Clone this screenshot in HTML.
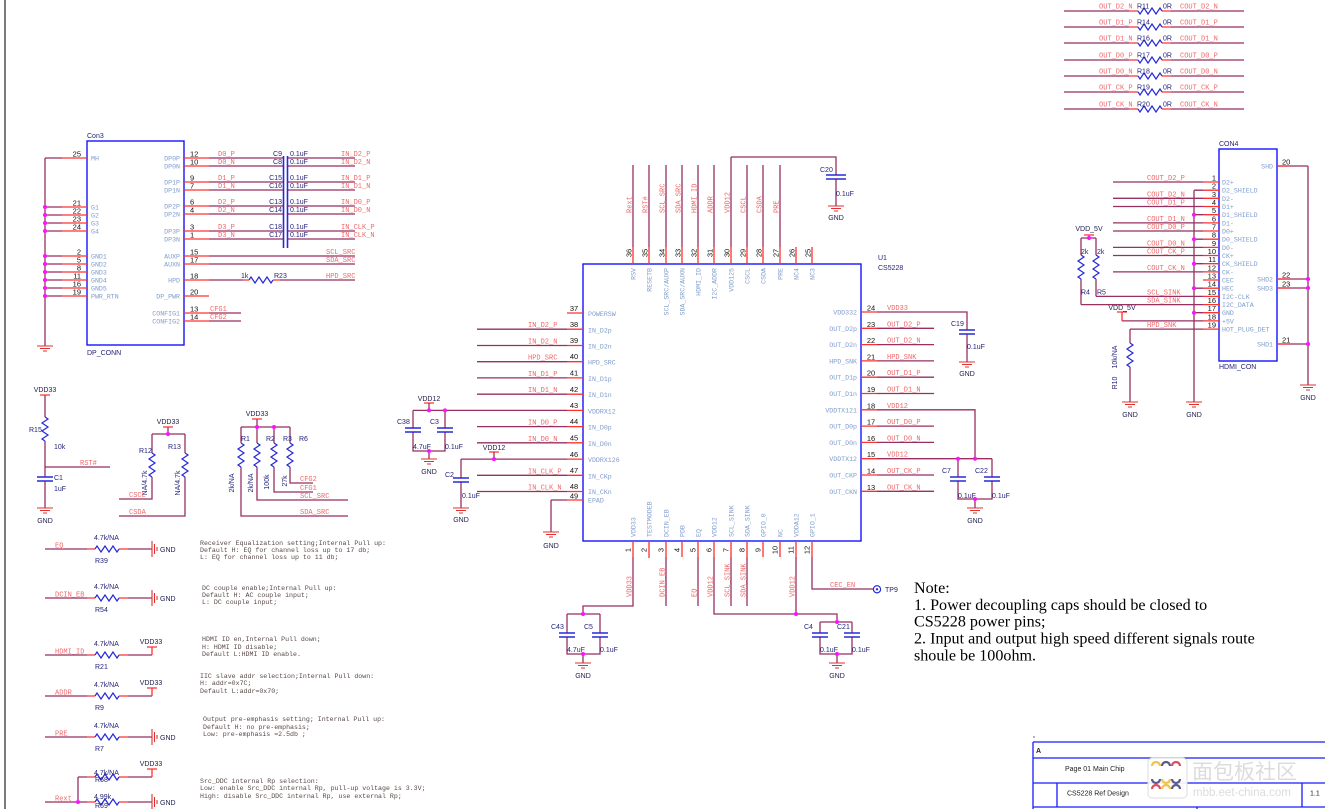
<!DOCTYPE html>
<html><head><meta charset="utf-8">
<style>
html,body{margin:0;padding:0;background:#fff;width:1325px;height:809px;overflow:hidden}
svg{display:block}
.w{stroke:#972f60;stroke-width:1.3;fill:none}
.p{stroke:#ff3030;stroke-width:1.3;fill:none}
.b{stroke:#1414ff;stroke-width:1.4;fill:none}
.z{stroke:#2828d8;stroke-width:1.2;fill:none}
.cp{stroke:#2828d8;stroke-width:1.6;fill:none}
.g{stroke:#e03030;stroke-width:1.1;fill:none}
.tb{stroke:#1a1aff;stroke-width:1.3;fill:none}
.d{fill:#ff10ff}
text{white-space:pre}
.n{font-family:"Liberation Mono",monospace;font-size:7px;fill:#f06868}
.pn{font-family:"Liberation Sans",sans-serif;font-size:7.5px;fill:#111}
.c{font-family:"Liberation Sans",sans-serif;font-size:7px;fill:#24247a}
.k{font-family:"Liberation Sans",sans-serif;font-size:7px;fill:#1c1c4c}
.il{font-family:"Liberation Mono",monospace;font-size:6.6px;fill:#7f9ccc}
.cm{font-family:"Liberation Mono",monospace;font-size:6.6px;fill:#5a4848}
.nt{font-family:"Liberation Serif",serif;font-size:16.1px;fill:#000}
.t{font-family:"Liberation Sans",sans-serif;font-size:7px;fill:#222}
</style></head>
<body>
<svg width="1325" height="809" viewBox="0 0 1325 809" xmlns="http://www.w3.org/2000/svg">
<line x1="5" y1="0" x2="5" y2="809" stroke="#7a7a7a" stroke-width="2"/>

<!-- ================= Con3 ================= -->
<rect class="b" x="87" y="141" width="97" height="204"/>
<text class="c" x="87" y="138">Con3</text>
<text class="c" x="87" y="355">DP_CONN</text>
<path class="w" d="M45 158V346M45 158H62M45 207H62M45 215H62M45 223H62M45 231H62M45 256H62M45 264H62M45 272H62M45 280H62M45 288H62M45 296H62"/>
<path class="p" d="M62 158H87M62 207H87M62 215H87M62 223H87M62 231H87M62 256H87M62 264H87M62 272H87M62 280H87M62 288H87M62 296H87"/>
<g class="d"><circle cx="45" cy="207" r="2"/><circle cx="45" cy="215" r="2"/><circle cx="45" cy="223" r="2"/><circle cx="45" cy="231" r="2"/><circle cx="45" cy="256" r="2"/><circle cx="45" cy="264" r="2"/><circle cx="45" cy="272" r="2"/><circle cx="45" cy="280" r="2"/><circle cx="45" cy="288" r="2"/><circle cx="45" cy="296" r="2"/></g>
<path class="g" d="M37 346H53M40 348.5H50M43 351H47"/>
<g class="pn" text-anchor="end">
<text x="81" y="156.5">25</text><text x="81" y="205.5">21</text><text x="81" y="213.5">22</text><text x="81" y="221.5">23</text><text x="81" y="229.5">24</text>
<text x="81" y="254.5">2</text><text x="81" y="262.5">5</text><text x="81" y="270.5">8</text><text x="81" y="278.5">11</text><text x="81" y="286.5">16</text><text x="81" y="294.5">19</text>
</g>
<g class="il">
<text x="91" y="160.5">MH</text><text x="91" y="209.5">G1</text><text x="91" y="217.5">G2</text><text x="91" y="225.5">G3</text><text x="91" y="233.5">G4</text>
<text x="91" y="258.5">GND1</text><text x="91" y="266.5">GND2</text><text x="91" y="274.5">GND3</text><text x="91" y="282.5">GND4</text><text x="91" y="290.5">GND5</text><text x="91" y="298.5">PWR_RTN</text>
</g>
<path class="p" d="M184 158H209M184 166H209M184 182H209M184 190H209M184 206H209M184 214H209M184 231H209M184 239H209M184 256H209M184 264H209M184 280H209M184 296H209M184 313H209M184 321H209"/>
<g class="pn">
<text x="190" y="156.5">12</text><text x="190" y="164.5">10</text><text x="190" y="180.5">9</text><text x="190" y="188.5">7</text><text x="190" y="204.5">6</text><text x="190" y="212.5">4</text><text x="190" y="229.5">3</text><text x="190" y="237.5">1</text>
<text x="190" y="254.5">15</text><text x="190" y="262.5">17</text><text x="190" y="278.5">18</text><text x="190" y="294.5">20</text><text x="190" y="311.5">13</text><text x="190" y="319.5">14</text>
</g>
<g class="il" text-anchor="end">
<text x="180" y="160.5">DP0P</text><text x="180" y="168.5">DP0N</text><text x="180" y="184.5">DP1P</text><text x="180" y="192.5">DP1N</text><text x="180" y="208.5">DP2P</text><text x="180" y="216.5">DP2N</text><text x="180" y="233.5">DP3P</text><text x="180" y="241.5">DP3N</text>
<text x="180" y="258.5">AUXP</text><text x="180" y="266.5">AUXN</text><text x="180" y="282.5">HPD</text><text x="180" y="298.5">DP_PWR</text><text x="180" y="315.5">CONFIG1</text><text x="180" y="323.5">CONFIG2</text>
</g>
<path class="w" d="M209 158H283M209 166H283M209 182H283M209 190H283M209 206H283M209 214H283M209 231H283M209 239H283M288 158H355M288 166H355M288 182H355M288 190H355M288 206H355M288 214H355M288 231H355M288 239H355M209 256H355M209 264H355M209 280H243M280 280H355M209 313H241M209 321H241"/>
<path class="p" d="M243 280H249M273 280H280"/>
<path class="z" d="M249 280l2 -3l4 6l4 -6l4 6l4 -6l4 6l2 -3"/>
<path class="cp" d="M283.5 156V248M287.5 156V248"/>
<g class="n">
<text x="218" y="156">D0_P</text><text x="218" y="164">D0_N</text><text x="218" y="180">D1_P</text><text x="218" y="188">D1_N</text><text x="218" y="204">D2_P</text><text x="218" y="212">D2_N</text><text x="218" y="229">D3_P</text><text x="218" y="237">D3_N</text>
<text x="341" y="156">IN_D2_P</text><text x="341" y="164">IN_D2_N</text><text x="341" y="180">IN_D1_P</text><text x="341" y="188">IN_D1_N</text><text x="341" y="204">IN_D0_P</text><text x="341" y="212">IN_D0_N</text><text x="341" y="229">IN_CLK_P</text><text x="341" y="237">IN_CLK_N</text>
<text x="326" y="254">SCL_SRC</text><text x="326" y="262">SDA_SRC</text><text x="326" y="278">HPD_SRC</text>
<text x="210" y="311">CFG1</text><text x="210" y="319">CFG2</text>
</g>
<g class="c" text-anchor="end">
<text x="282" y="156">C9</text><text x="282" y="164">C8</text><text x="282" y="180">C15</text><text x="282" y="188">C16</text><text x="282" y="204">C13</text><text x="282" y="212">C14</text><text x="282" y="229">C18</text><text x="282" y="237">C17</text>
</g>
<g class="c">
<text x="290" y="156">0.1uF</text><text x="290" y="164">0.1uF</text><text x="290" y="180">0.1uF</text><text x="290" y="188">0.1uF</text><text x="290" y="204">0.1uF</text><text x="290" y="212">0.1uF</text><text x="290" y="229">0.1uF</text><text x="290" y="237">0.1uF</text>
<text x="241" y="278">1k</text><text x="274" y="278">R23</text>
</g>

<!-- ================= Top-right resistors ================= -->
<path class="w" d="M1064 11H1129M1171 11H1244M1064 27H1129M1171 27H1244M1064 43H1129M1171 43H1244M1064 60H1129M1171 60H1244M1064 76H1129M1171 76H1244M1064 92H1129M1171 92H1244M1064 109H1129M1171 109H1244"/>
<path class="p" d="M1129 11H1138M1162 11H1171M1129 27H1138M1162 27H1171M1129 43H1138M1162 43H1171M1129 60H1138M1162 60H1171M1129 76H1138M1162 76H1171M1129 92H1138M1162 92H1171M1129 109H1138M1162 109H1171"/>
<path class="z" d="M1138 11l2 3l4 -6l4 6l4 -6l4 6l4 -6l2 3M1138 27l2 3l4 -6l4 6l4 -6l4 6l4 -6l2 3M1138 43l2 3l4 -6l4 6l4 -6l4 6l4 -6l2 3M1138 60l2 3l4 -6l4 6l4 -6l4 6l4 -6l2 3M1138 76l2 3l4 -6l4 6l4 -6l4 6l4 -6l2 3M1138 92l2 3l4 -6l4 6l4 -6l4 6l4 -6l2 3M1138 109l2 3l4 -6l4 6l4 -6l4 6l4 -6l2 3"/>
<g class="n">
<text x="1099" y="8.5">OUT_D2_N</text><text x="1180" y="8.5">COUT_D2_N</text>
<text x="1099" y="24.5">OUT_D1_P</text><text x="1180" y="24.5">COUT_D1_P</text>
<text x="1099" y="40.5">OUT_D1_N</text><text x="1180" y="40.5">COUT_D1_N</text>
<text x="1099" y="57.5">OUT_D0_P</text><text x="1180" y="57.5">COUT_D0_P</text>
<text x="1099" y="73.5">OUT_D0_N</text><text x="1180" y="73.5">COUT_D0_N</text>
<text x="1099" y="89.5">OUT_CK_P</text><text x="1180" y="89.5">COUT_CK_P</text>
<text x="1099" y="106.5">OUT_CK_N</text><text x="1180" y="106.5">COUT_CK_N</text>
</g>
<g class="c">
<text x="1137" y="8.5">R11</text><text x="1163" y="8.5">0R</text>
<text x="1137" y="24.5">R14</text><text x="1163" y="24.5">0R</text>
<text x="1137" y="40.5">R16</text><text x="1163" y="40.5">0R</text>
<text x="1137" y="57.5">R17</text><text x="1163" y="57.5">0R</text>
<text x="1137" y="73.5">R18</text><text x="1163" y="73.5">0R</text>
<text x="1137" y="89.5">R19</text><text x="1163" y="89.5">0R</text>
<text x="1137" y="106.5">R20</text><text x="1163" y="106.5">0R</text>
</g>

<!-- ================= CON4 ================= -->
<rect class="b" x="1219" y="149" width="58" height="212"/>
<text class="c" x="1219" y="146">CON4</text>
<text class="c" x="1219" y="369">HDMI_CON</text>
<path class="w" d="M1113 182H1203M1113 198.3H1203M1113 206.5H1203M1113 222.9H1203M1113 231H1203M1113 247.4H1203M1113 255.5H1203M1113 271.9H1203
M1194 190.2H1203M1194 214.7H1203M1194 239.2H1203M1194 263.7H1203M1194 288.2H1203M1194 312.7H1203M1194 190.2V402
M1096 296.4H1203M1081 304.6H1203M1122 320.9H1203M1130 329.1H1203M1130 329.1V343M1130 367V402
M1081 238H1096M1081 238V255M1081 279V304.6M1096 238V255M1096 279V296.4
M1277 166H1308M1277 279H1308M1277 288H1308M1277 344H1308M1308 166V385"/>
<path class="p" d="M1203 182H1219M1203 190.2H1219M1203 198.3H1219M1203 206.5H1219M1203 214.7H1219M1203 222.9H1219M1203 231H1219M1203 239.2H1219M1203 247.4H1219M1203 255.5H1219M1203 263.7H1219M1203 271.9H1219M1203 280H1219M1203 288.2H1219M1203 296.4H1219M1203 304.6H1219M1203 312.7H1219M1203 320.9H1219M1203 329.1H1219
M1277 166H1290M1277 279H1290M1277 288H1290M1277 344H1290M1089 235V238M1084 235H1094M1122 312V320.9M1117 312H1127"/>
<path class="z" d="M1081 255l3 2l-6 4l6 4l-6 4l6 4l-6 4l3 2M1096 255l3 2l-6 4l6 4l-6 4l6 4l-6 4l3 2M1130 343l3 2l-6 4l6 4l-6 4l6 4l-6 4l3 2"/>
<g class="d"><circle cx="1194" cy="214.7" r="2"/><circle cx="1194" cy="239.2" r="2"/><circle cx="1194" cy="263.7" r="2"/><circle cx="1194" cy="288.2" r="2"/><circle cx="1194" cy="312.7" r="2"/><circle cx="1089" cy="238" r="2"/><circle cx="1308" cy="279" r="2"/><circle cx="1308" cy="288" r="2"/><circle cx="1308" cy="344" r="2"/></g>
<path class="g" d="M1186 402H1202M1189 404.5H1199M1192 407H1196M1122 402H1138M1125 404.5H1135M1128 407H1132M1300 385H1316M1303 387.5H1313M1306 390H1310"/>
<g class="k" text-anchor="middle"><text x="1194" y="417">GND</text><text x="1130" y="417">GND</text><text x="1308" y="400">GND</text><text x="1089" y="231">VDD_5V</text><text x="1122" y="310">VDD_5V</text></g>
<g class="pn" text-anchor="end">
<text x="1216" y="180.5">1</text><text x="1216" y="188.7">2</text><text x="1216" y="196.8">3</text><text x="1216" y="205">4</text><text x="1216" y="213.2">5</text><text x="1216" y="221.4">6</text><text x="1216" y="229.5">7</text><text x="1216" y="237.7">8</text><text x="1216" y="245.9">9</text><text x="1216" y="254">10</text><text x="1216" y="262.2">11</text><text x="1216" y="270.4">12</text><text x="1216" y="278.5">13</text><text x="1216" y="286.7">14</text><text x="1216" y="294.9">15</text><text x="1216" y="303.1">16</text><text x="1216" y="311.2">17</text><text x="1216" y="319.4">18</text><text x="1216" y="327.6">19</text>
</g>
<g class="pn"><text x="1282" y="164.5">20</text><text x="1282" y="277.5">22</text><text x="1282" y="286.5">23</text><text x="1282" y="342.5">21</text></g>
<g class="il">
<text x="1222" y="184.5">D2+</text><text x="1222" y="192.7">D2_SHIELD</text><text x="1222" y="200.8">D2-</text><text x="1222" y="209">D1+</text><text x="1222" y="217.2">D1_SHIELD</text><text x="1222" y="225.4">D1-</text><text x="1222" y="233.5">D0+</text><text x="1222" y="241.7">D0_SHIELD</text><text x="1222" y="249.9">D0-</text><text x="1222" y="258">CK+</text><text x="1222" y="266.2">CK_SHIELD</text><text x="1222" y="274.4">CK-</text><text x="1222" y="282.5">CEC</text><text x="1222" y="290.7">HEC</text><text x="1222" y="298.9">I2C-CLK</text><text x="1222" y="307.1">I2C_DATA</text><text x="1222" y="315.2">GND</text><text x="1222" y="323.4">+5V</text><text x="1222" y="331.6">HOT_PLUG_DET</text>
</g>
<g class="il" text-anchor="end"><text x="1273" y="168.5">SHD</text><text x="1273" y="281.5">SHD2</text><text x="1273" y="290.5">SHD3</text><text x="1273" y="346.5">SHD1</text></g>
<g class="n">
<text x="1147" y="180">COUT_D2_P</text><text x="1147" y="196.3">COUT_D2_N</text><text x="1147" y="204.5">COUT_D1_P</text><text x="1147" y="220.9">COUT_D1_N</text><text x="1147" y="229">COUT_D0_P</text><text x="1147" y="245.4">COUT_D0_N</text><text x="1147" y="253.5">COUT_CK_P</text><text x="1147" y="269.9">COUT_CK_N</text>
<text x="1147" y="294.4">SCL_SINK</text><text x="1147" y="302.6">SDA_SINK</text><text x="1147" y="327.1">HPD_SNK</text>
</g>
<g class="c"><text x="1081" y="254">2k</text><text x="1097" y="254">2k</text><text x="1081" y="294.5">R4</text><text x="1097" y="294.5">R5</text>
<text transform="translate(1117,357) rotate(-90)" text-anchor="middle">10k/NA</text>
<text transform="translate(1117,383) rotate(-90)" text-anchor="middle">R10</text></g>

<!-- ================= U1 ================= -->
<rect class="b" x="583" y="264" width="278" height="277"/>
<text class="c" x="878" y="260">U1</text>
<text class="c" x="878" y="270">CS5228</text>
<!-- top -->
<path class="w" d="M633 165V247M649 165V247M666 165V247M682 165V247M698 165V247M714 165V247M747 165V247M763 165V247M780 165V247M731 157V247M731 157H836V175M836 179V206"/>
<path class="p" d="M633 247V264M649 247V264M666 247V264M682 247V264M698 247V264M714 247V264M731 247V264M747 247V264M763 247V264M780 247V264M796 247V264M812 247V264"/>
<path class="cp" d="M826 175H846M826 179H846"/>
<path class="g" d="M828 206H844M831 208.5H841M834 211H838"/>
<text class="c" x="820" y="172">C20</text><text class="c" x="836" y="196">0.1uF</text>
<text class="k" x="836" y="220" text-anchor="middle">GND</text>
<g class="pn" text-anchor="middle">
<text transform="translate(631.5,253) rotate(-90)">36</text><text transform="translate(647.5,253) rotate(-90)">35</text><text transform="translate(664.5,253) rotate(-90)">34</text><text transform="translate(680.5,253) rotate(-90)">33</text><text transform="translate(696.5,253) rotate(-90)">32</text><text transform="translate(712.5,253) rotate(-90)">31</text><text transform="translate(729.5,253) rotate(-90)">30</text><text transform="translate(745.5,253) rotate(-90)">29</text><text transform="translate(761.5,253) rotate(-90)">28</text><text transform="translate(778.5,253) rotate(-90)">27</text><text transform="translate(794.5,253) rotate(-90)">26</text><text transform="translate(810.5,253) rotate(-90)">25</text>
</g>
<g class="n">
<text transform="translate(631.5,213) rotate(-90)">Rext</text><text transform="translate(647.5,213) rotate(-90)">RST#</text><text transform="translate(664.5,213) rotate(-90)">SCL_SRC</text><text transform="translate(680.5,213) rotate(-90)">SDA_SRC</text><text transform="translate(696.5,213) rotate(-90)">HDMI_ID</text><text transform="translate(712.5,213) rotate(-90)">ADDR</text><text transform="translate(729.5,213) rotate(-90)">VDD12</text><text transform="translate(745.5,213) rotate(-90)">CSCL</text><text transform="translate(761.5,213) rotate(-90)">CSDA</text><text transform="translate(778.5,213) rotate(-90)">PRE</text>
</g>
<g class="il" text-anchor="end">
<text transform="translate(635.5,268) rotate(-90)">RSV</text><text transform="translate(651.5,268) rotate(-90)">RESETB</text><text transform="translate(668.5,268) rotate(-90)">SCL_SRC/AUXP</text><text transform="translate(684.5,268) rotate(-90)">SDA_SRC/AUXN</text><text transform="translate(700.5,268) rotate(-90)">HDMI_ID</text><text transform="translate(716.5,268) rotate(-90)">I2C_ADDR</text><text transform="translate(733.5,268) rotate(-90)">VDD125</text><text transform="translate(749.5,268) rotate(-90)">CSCL</text><text transform="translate(765.5,268) rotate(-90)">CSDA</text><text transform="translate(782.5,268) rotate(-90)">PRE</text><text transform="translate(798.5,268) rotate(-90)">NC4</text><text transform="translate(814.5,268) rotate(-90)">NC3</text>
</g>
<!-- left -->
<path class="p" d="M567 313H583M567 329.2H583M567 345.5H583M567 361.7H583M567 377.9H583M567 394.2H583M567 410.4H583M567 426.6H583M567 442.8H583M567 459.1H583M567 475.3H583M567 491.5H583M567 500H583M424 403H434M489 452H499"/>
<path class="w" d="M477 329.2H567M477 345.5H567M477 361.7H567M477 377.9H567M477 394.2H567M477 426.6H567M477 442.8H567M477 475.3H567M477 491.5H567
M413 410.4H567M429 403V410.4M413 410.4V428M445 410.4V428M413 432V451H445V432M429 451V459
M461 459.1H567M494 452V459.1M461 459.1V478M461 482V508M551 500H567M551 500V532"/>
<path class="cp" d="M405 428H421M405 432H421M437 428H453M437 432H453M453 478H469M453 482H469"/>
<g class="d"><circle cx="429" cy="410.4" r="2"/><circle cx="445" cy="410.4" r="2"/><circle cx="429" cy="451" r="2"/><circle cx="494" cy="459.1" r="2"/></g>
<path class="g" d="M421 459H437M424 461.5H434M427 464H431M453 508H469M456 510.5H466M459 513H463M543 532H559M546 534.5H556M549 537H553"/>
<g class="k" text-anchor="middle"><text x="429" y="474">GND</text><text x="461" y="522">GND</text><text x="551" y="548">GND</text><text x="429" y="401">VDD12</text><text x="494" y="450">VDD12</text></g>
<g class="c"><text x="397" y="424">C38</text><text x="430" y="424">C3</text><text x="413" y="449">4.7uF</text><text x="445" y="449">0.1uF</text><text x="445" y="477">C2</text><text x="462" y="498">0.1uF</text></g>
<g class="pn" text-anchor="middle">
<text x="574" y="311">37</text><text x="574" y="327">38</text><text x="574" y="343">39</text><text x="574" y="359">40</text><text x="574" y="375.5">41</text><text x="574" y="392">42</text><text x="574" y="408">43</text><text x="574" y="424">44</text><text x="574" y="440.5">45</text><text x="574" y="457">46</text><text x="574" y="473">47</text><text x="574" y="489">48</text><text x="574" y="498.5">49</text>
</g>
<g class="il">
<text x="588" y="316">POWERSW</text><text x="588" y="332.5">IN_D2p</text><text x="588" y="348.5">IN_D2n</text><text x="588" y="364.7">HPD_SRC</text><text x="588" y="381">IN_D1p</text><text x="588" y="397.2">IN_D1n</text><text x="588" y="413.4">VDDRX12</text><text x="588" y="429.6">IN_D0p</text><text x="588" y="446">IN_D0n</text><text x="588" y="462">VDDRX126</text><text x="588" y="478.3">IN_CKp</text><text x="588" y="494">IN_CKn</text><text x="588" y="502.5">EPAD</text>
</g>
<g class="n">
<text x="528" y="327">IN_D2_P</text><text x="528" y="343.5">IN_D2_N</text><text x="528" y="359.7">HPD_SRC</text><text x="528" y="376">IN_D1_P</text><text x="528" y="392.2">IN_D1_N</text><text x="528" y="424.6">IN_D0_P</text><text x="528" y="440.8">IN_D0_N</text><text x="528" y="473.3">IN_CLK_P</text><text x="528" y="489.5">IN_CLK_N</text>
</g>
<!-- right -->
<path class="p" d="M861 312H877M861 328.3H877M861 344.6H877M861 360.9H877M861 377.2H877M861 393.5H877M861 409.8H877M861 426.1H877M861 442.4H877M861 458.7H877M861 475H877M861 491.3H877"/>
<path class="w" d="M877 328.3H934M877 344.6H934M877 360.9H934M877 377.2H934M877 393.5H934M877 426.1H934M877 442.4H934M877 475H934M877 491.3H934
M877 312H967V330M967 334V362M877 409.8H975V458.7M877 458.7H992M958 458.7V477M992 458.7V477M958 481V499H992V481M975 499V508"/>
<path class="cp" d="M959 330H975M959 334H975M950 477H966M950 481H966M984 477H1000M984 481H1000"/>
<g class="d"><circle cx="958" cy="458.7" r="2"/><circle cx="975" cy="458.7" r="2"/><circle cx="975" cy="499" r="2"/></g>
<path class="g" d="M959 362H975M962 364.5H972M965 367H969M967 508H983M970 510.5H980M973 513H977"/>
<g class="k" text-anchor="middle"><text x="967" y="376">GND</text><text x="975" y="523">GND</text></g>
<g class="c"><text x="951" y="326">C19</text><text x="967" y="349">0.1uF</text><text x="942" y="473">C7</text><text x="975" y="473">C22</text><text x="958" y="498">0.1uF</text><text x="992" y="498">0.1uF</text></g>
<g class="pn" text-anchor="middle">
<text x="871" y="310.5">24</text><text x="871" y="326.8">23</text><text x="871" y="343.1">22</text><text x="871" y="359.4">21</text><text x="871" y="375.7">20</text><text x="871" y="392">19</text><text x="871" y="408.3">18</text><text x="871" y="424.6">17</text><text x="871" y="440.9">16</text><text x="871" y="457.2">15</text><text x="871" y="473.5">14</text><text x="871" y="489.8">13</text>
</g>
<g class="il" text-anchor="end">
<text x="857" y="314.5">VDD332</text><text x="857" y="330.8">OUT_D2p</text><text x="857" y="347.1">OUT_D2n</text><text x="857" y="363.4">HPD_SNK</text><text x="857" y="379.7">OUT_D1p</text><text x="857" y="396">OUT_D1n</text><text x="857" y="412.3">VDDTX121</text><text x="857" y="428.6">OUT_D0p</text><text x="857" y="444.9">OUT_D0n</text><text x="857" y="461.2">VDDTX12</text><text x="857" y="477.5">OUT_CKP</text><text x="857" y="493.8">OUT_CKN</text>
</g>
<g class="n">
<text x="887" y="310">VDD33</text><text x="887" y="326.3">OUT_D2_P</text><text x="887" y="342.6">OUT_D2_N</text><text x="887" y="358.9">HPD_SNK</text><text x="887" y="375.2">OUT_D1_P</text><text x="887" y="391.5">OUT_D1_N</text><text x="887" y="407.8">VDD12</text><text x="887" y="424.1">OUT_D0_P</text><text x="887" y="440.4">OUT_D0_N</text><text x="887" y="456.7">VDD12</text><text x="887" y="473">OUT_CK_P</text><text x="887" y="489.3">OUT_CK_N</text>
</g>
<!-- bottom -->
<path class="p" d="M633 541V557M649 541V558M666 541V557M682 541V557M698 541V557M714 541V557M731 541V557M747 541V557M763 541V557M780 541V557M796 541V557M812 541V557"/>
<path class="w" d="M633 557V606H583V614M567 614H600M567 614V633M600 614V633M567 637V654H600V637M583 654V663
M666 557V606M698 557V606M731 557V606M747 557V606
M714 557V614H837V622M796 557V614M820 622H852M820 622V633M852 622V633M820 637V654H852V637M837 654V663
M812 557V589H873"/>
<path class="cp" d="M559 633H575M559 637H575M592 633H608M592 637H608M812 633H828M812 637H828M844 633H860M844 637H860"/>
<g class="d"><circle cx="583" cy="614" r="2"/><circle cx="583" cy="654" r="2"/><circle cx="796" cy="614" r="2"/><circle cx="837" cy="622" r="2"/><circle cx="837" cy="654" r="2"/></g>
<path class="g" d="M575 663H591M578 665.5H588M581 668H585M829 663H845M832 665.5H842M835 668H839"/>
<g class="k" text-anchor="middle"><text x="583" y="678">GND</text><text x="837" y="678">GND</text></g>
<circle cx="877" cy="589.3" r="3.6" fill="none" stroke="#2828d8" stroke-width="1.2"/>
<circle cx="877" cy="589.3" r="1.2" fill="#2828d8"/>
<text class="c" x="885" y="592">TP9</text>
<text class="n" x="830" y="587">CEC_EN</text>
<g class="c"><text x="551" y="629">C43</text><text x="584" y="629">C5</text><text x="567" y="652">4.7uF</text><text x="600" y="652">0.1uF</text><text x="804" y="629">C4</text><text x="837" y="629">C21</text><text x="820" y="652">0.1uF</text><text x="852" y="652">0.1uF</text></g>
<g class="pn" text-anchor="middle">
<text transform="translate(630.5,550) rotate(-90)">1</text><text transform="translate(646.5,550) rotate(-90)">2</text><text transform="translate(663.5,550) rotate(-90)">3</text><text transform="translate(679.5,550) rotate(-90)">4</text><text transform="translate(695.5,550) rotate(-90)">5</text><text transform="translate(711.5,550) rotate(-90)">6</text><text transform="translate(728.5,550) rotate(-90)">7</text><text transform="translate(744.5,550) rotate(-90)">8</text><text transform="translate(760.5,550) rotate(-90)">9</text><text transform="translate(777.5,550) rotate(-90)">10</text><text transform="translate(793.5,550) rotate(-90)">11</text><text transform="translate(809.5,550) rotate(-90)">12</text>
</g>
<g class="il">
<text transform="translate(635.5,537) rotate(-90)">VDD33</text><text transform="translate(651.5,537) rotate(-90)">TESTMODEB</text><text transform="translate(668.5,537) rotate(-90)">DCIN_EB</text><text transform="translate(684.5,537) rotate(-90)">PDB</text><text transform="translate(700.5,537) rotate(-90)">EQ</text><text transform="translate(716.5,537) rotate(-90)">VDD12</text><text transform="translate(733.5,537) rotate(-90)">SCL_SINK</text><text transform="translate(749.5,537) rotate(-90)">SDA_SINK</text><text transform="translate(765.5,537) rotate(-90)">GPIO_0</text><text transform="translate(782.5,537) rotate(-90)">NC</text><text transform="translate(798.5,537) rotate(-90)">VDDA12</text><text transform="translate(814.5,537) rotate(-90)">GPIO_1</text>
</g>
<g class="n">
<text transform="translate(631.5,597) rotate(-90)">VDD33</text><text transform="translate(664.5,597) rotate(-90)">DCIN_EB</text><text transform="translate(696.5,597) rotate(-90)">EQ</text><text transform="translate(712.5,597) rotate(-90)">VDD12</text><text transform="translate(729.5,597) rotate(-90)">SCL_SINK</text><text transform="translate(745.5,597) rotate(-90)">SDA_SINK</text><text transform="translate(794.5,597) rotate(-90)">VDD12</text>
</g>

<!-- ================= Left middle ================= -->
<path class="w" d="M45 395V417M45 441V477M45 481V508M45 467H110
M168 427V434M152 434H185M152 434V453M152 477V499H119M185 434V453M185 477V516H119
M257 419V427M241 427H290M241 427V443M257 427V443M274 427V443M290 427V443M241 467V516H348M257 467V500H348M274 467V492H313M290 467V483H313"/>
<path class="p" d="M40 395H50M163 427H173M252 419H262"/>
<path class="z" d="M45 417l3 2l-6 4l6 4l-6 4l6 4l-6 4l3 2M152 453l3 2l-6 4l6 4l-6 4l6 4l-6 4l3 2M185 453l3 2l-6 4l6 4l-6 4l6 4l-6 4l3 2M241 443l3 2l-6 4l6 4l-6 4l6 4l-6 4l3 2M257 443l3 2l-6 4l6 4l-6 4l6 4l-6 4l3 2M274 443l3 2l-6 4l6 4l-6 4l6 4l-6 4l3 2M290 443l3 2l-6 4l6 4l-6 4l6 4l-6 4l3 2"/>
<path class="cp" d="M37 477H53M37 481H53"/>
<g class="d"><circle cx="168" cy="434" r="2"/><circle cx="257" cy="427" r="2"/><circle cx="274" cy="427" r="2"/></g>
<path class="g" d="M37 508H53M40 510.5H50M43 513H47"/>
<g class="k" text-anchor="middle"><text x="45" y="392">VDD33</text><text x="45" y="523">GND</text><text x="168" y="424">VDD33</text><text x="257" y="416">VDD33</text></g>
<g class="c"><text x="29" y="432">R15</text><text x="54" y="449">10k</text><text x="54" y="480">C1</text><text x="54" y="491">1uF</text>
<text x="139" y="453">R12</text><text x="168" y="449">R13</text>
<text transform="translate(147,483) rotate(-90)" text-anchor="middle">NA/4.7k</text>
<text transform="translate(180,483) rotate(-90)" text-anchor="middle">NA/4.7k</text>
<text x="241" y="441">R1</text><text x="266" y="441">R2</text><text x="283" y="441">R3</text><text x="299" y="441">R6</text>
<text transform="translate(234,483) rotate(-90)" text-anchor="middle">2k/NA</text>
<text transform="translate(253,483) rotate(-90)" text-anchor="middle">2k/NA</text>
<text transform="translate(269,482) rotate(-90)" text-anchor="middle">100k</text>
<text transform="translate(287,481) rotate(-90)" text-anchor="middle">27k</text>
</g>
<g class="n"><text x="80" y="465">RST#</text><text x="129" y="497">CSCL</text><text x="129" y="514">CSDA</text><text x="300" y="481">CFG2</text><text x="300" y="490">CFG1</text><text x="300" y="498">SCL_SRC</text><text x="300" y="514">SDA_SRC</text></g>

<!-- ================= Bottom-left strap resistors ================= -->
<path class="w" d="M45 549H87M128 549H152M45 598H87M128 598H152M45 655H87M128 655H152M45 696H87M128 696H152M45 737H87M128 737H152M78 777H87M128 777H152M45 802H87M128 802H152M78 777V802"/>
<path class="p" d="M87 549H95M119 549H128M87 598H95M119 598H128M87 655H95M119 655H128M87 696H95M119 696H128M87 737H95M119 737H128M87 777H95M119 777H128M87 802H95M119 802H128
M152 655V647M147 647H157M152 696V688M147 688H157M152 777V769M147 769H157"/>
<path class="z" d="M95 549l2 -3l4 6l4 -6l4 6l4 -6l4 6l2 -3M95 598l2 -3l4 6l4 -6l4 6l4 -6l4 6l2 -3M95 655l2 -3l4 6l4 -6l4 6l4 -6l4 6l2 -3M95 696l2 -3l4 6l4 -6l4 6l4 -6l4 6l2 -3M95 737l2 -3l4 6l4 -6l4 6l4 -6l4 6l2 -3M95 777l2 -3l4 6l4 -6l4 6l4 -6l4 6l2 -3M95 802l2 -3l4 6l4 -6l4 6l4 -6l4 6l2 -3"/>
<path class="g" d="M152 541V557M154.5 544V554M157 547V551M152 590V606M154.5 593V603M157 596V600M152 729V745M154.5 732V742M157 735V739M152 794V810M154.5 797V807M157 800V804" stroke-width="1.3"/>
<circle class="d" cx="78" cy="802" r="2"/>
<g class="k"><text x="160" y="552">GND</text><text x="160" y="601">GND</text><text x="160" y="740">GND</text><text x="160" y="805">GND</text></g>
<g class="k" text-anchor="middle"><text x="151" y="644">VDD33</text><text x="151" y="685">VDD33</text><text x="151" y="766">VDD33</text></g>
<g class="c">
<text x="94" y="540">4.7k/NA</text><text x="95" y="563">R39</text>
<text x="94" y="589">4.7k/NA</text><text x="95" y="612">R54</text>
<text x="94" y="646">4.7k/NA</text><text x="95" y="669">R21</text>
<text x="94" y="687">4.7k/NA</text><text x="95" y="710">R9</text>
<text x="94" y="728">4.7k/NA</text><text x="95" y="751">R7</text>
<text x="94" y="775">4.7k/NA</text><text x="95" y="782">R68</text>
<text x="94" y="799">4.99k</text><text x="95" y="808">R69</text>
</g>
<g class="n"><text x="55" y="547.5">EQ</text><text x="55" y="596.5">DCIN_EB</text><text x="55" y="653.5">HDMI_ID</text><text x="55" y="694.5">ADDR</text><text x="55" y="735.5">PRE</text><text x="55" y="800.5">Rext</text></g>
<g class="cm">
<text x="200" y="545">Receiver Equalization setting;Internal Pull up:</text>
<text x="200" y="552">Default H: EQ for channel loss up to 17 db;</text>
<text x="200" y="559">L: EQ for channel loss up to 11 db;</text>
<text x="202" y="590">DC couple enable;Internal Pull up:</text>
<text x="202" y="597">Default H: AC couple input;</text>
<text x="202" y="604">L: DC couple input;</text>
<text x="202" y="641">HDMI ID en,Internal Pull down;</text>
<text x="202" y="649">H: HDMI ID disable;</text>
<text x="202" y="656">Default L:HDMI ID enable.</text>
<text x="200" y="678">IIC slave addr selection;Internal Pull down:</text>
<text x="200" y="685">H: addr=0x7C;</text>
<text x="200" y="693">Default L:addr=0x70;</text>
<text x="203" y="721">Output pre-emphasis setting; Internal Pull up:</text>
<text x="203" y="729">Default H: no pre-emphasis;</text>
<text x="203" y="736">Low: pre-emphasis =2.5db ;</text>
<text x="200" y="783">Src_DDC internal Rp selection:</text>
<text x="200" y="790">Low: enable Src_DDC internal Rp, pull-up voltage is 3.3V;</text>
<text x="200" y="798">High: disable Src_DDC internal Rp, use external Rp;</text>
</g>

<!-- ================= Note ================= -->
<g class="nt">
<text x="914" y="593">Note:</text>
<text x="914" y="610">1. Power decoupling caps should be closed to</text>
<text x="914" y="626.5">CS5228 power pins;</text>
<text x="914" y="643.5">2. Input and output high speed different signals route</text>
<text x="914" y="660.5">shoule be 100ohm.</text>
</g>

<!-- ================= Title block ================= -->
<path class="tb" d="M1033 742H1325M1033 758H1325M1033 783H1325M1033 807H1325M1033 742V809M1057 783V807M1302 783V807M1197 807V809"/>
<circle cx="1034" cy="737" r="0.7" fill="#3333aa"/>
<text class="t" x="1036" y="753" font-weight="bold" font-size="6px">A</text>
<text class="t" x="1065" y="771">Page 01 Main Chip</text>
<text class="t" x="1067" y="795.5">CS5228 Ref Design</text>
<text class="t" x="1310" y="795.5">1.1</text>
<!-- watermark -->
<rect x="1148" y="758" width="39" height="40" rx="4" fill="#fff" fill-opacity="0.9" stroke="#dddddd"/>
<g fill="none" stroke-width="2.2">
<path d="M1152 766a4 4 0 0 1 8 0" stroke="#f3c24a"/><path d="M1162 766a4 4 0 0 1 8 0" stroke="#5a5a8c"/><path d="M1172 766a4 4 0 0 1 8 0" stroke="#d85060"/>
<path d="M1152 779a4 4 0 0 0 8 0" stroke="#5a5a8c"/><path d="M1162 779a4 4 0 0 0 8 0" stroke="#f3c24a"/><path d="M1172 779a4 4 0 0 0 8 0" stroke="#5a5a8c"/>
<path d="M1152 789a4 4 0 0 1 8 0" stroke="#d85060"/><path d="M1162 789a4 4 0 0 1 8 0" stroke="#f3c24a"/><path d="M1172 789a4 4 0 0 1 8 0" stroke="#5a5a8c"/>
</g>
<text x="1192" y="779" font-family="'Liberation Sans','Noto Sans CJK SC',sans-serif" font-size="21px" fill="#d6d6d6" fill-opacity="0.85">面包板社区</text>
<text x="1193" y="796" font-family="'Liberation Sans',sans-serif" font-size="11.5px" fill="#d6d6d6" fill-opacity="0.85">mbb.eet-china.com</text>
</svg>
</body></html>
